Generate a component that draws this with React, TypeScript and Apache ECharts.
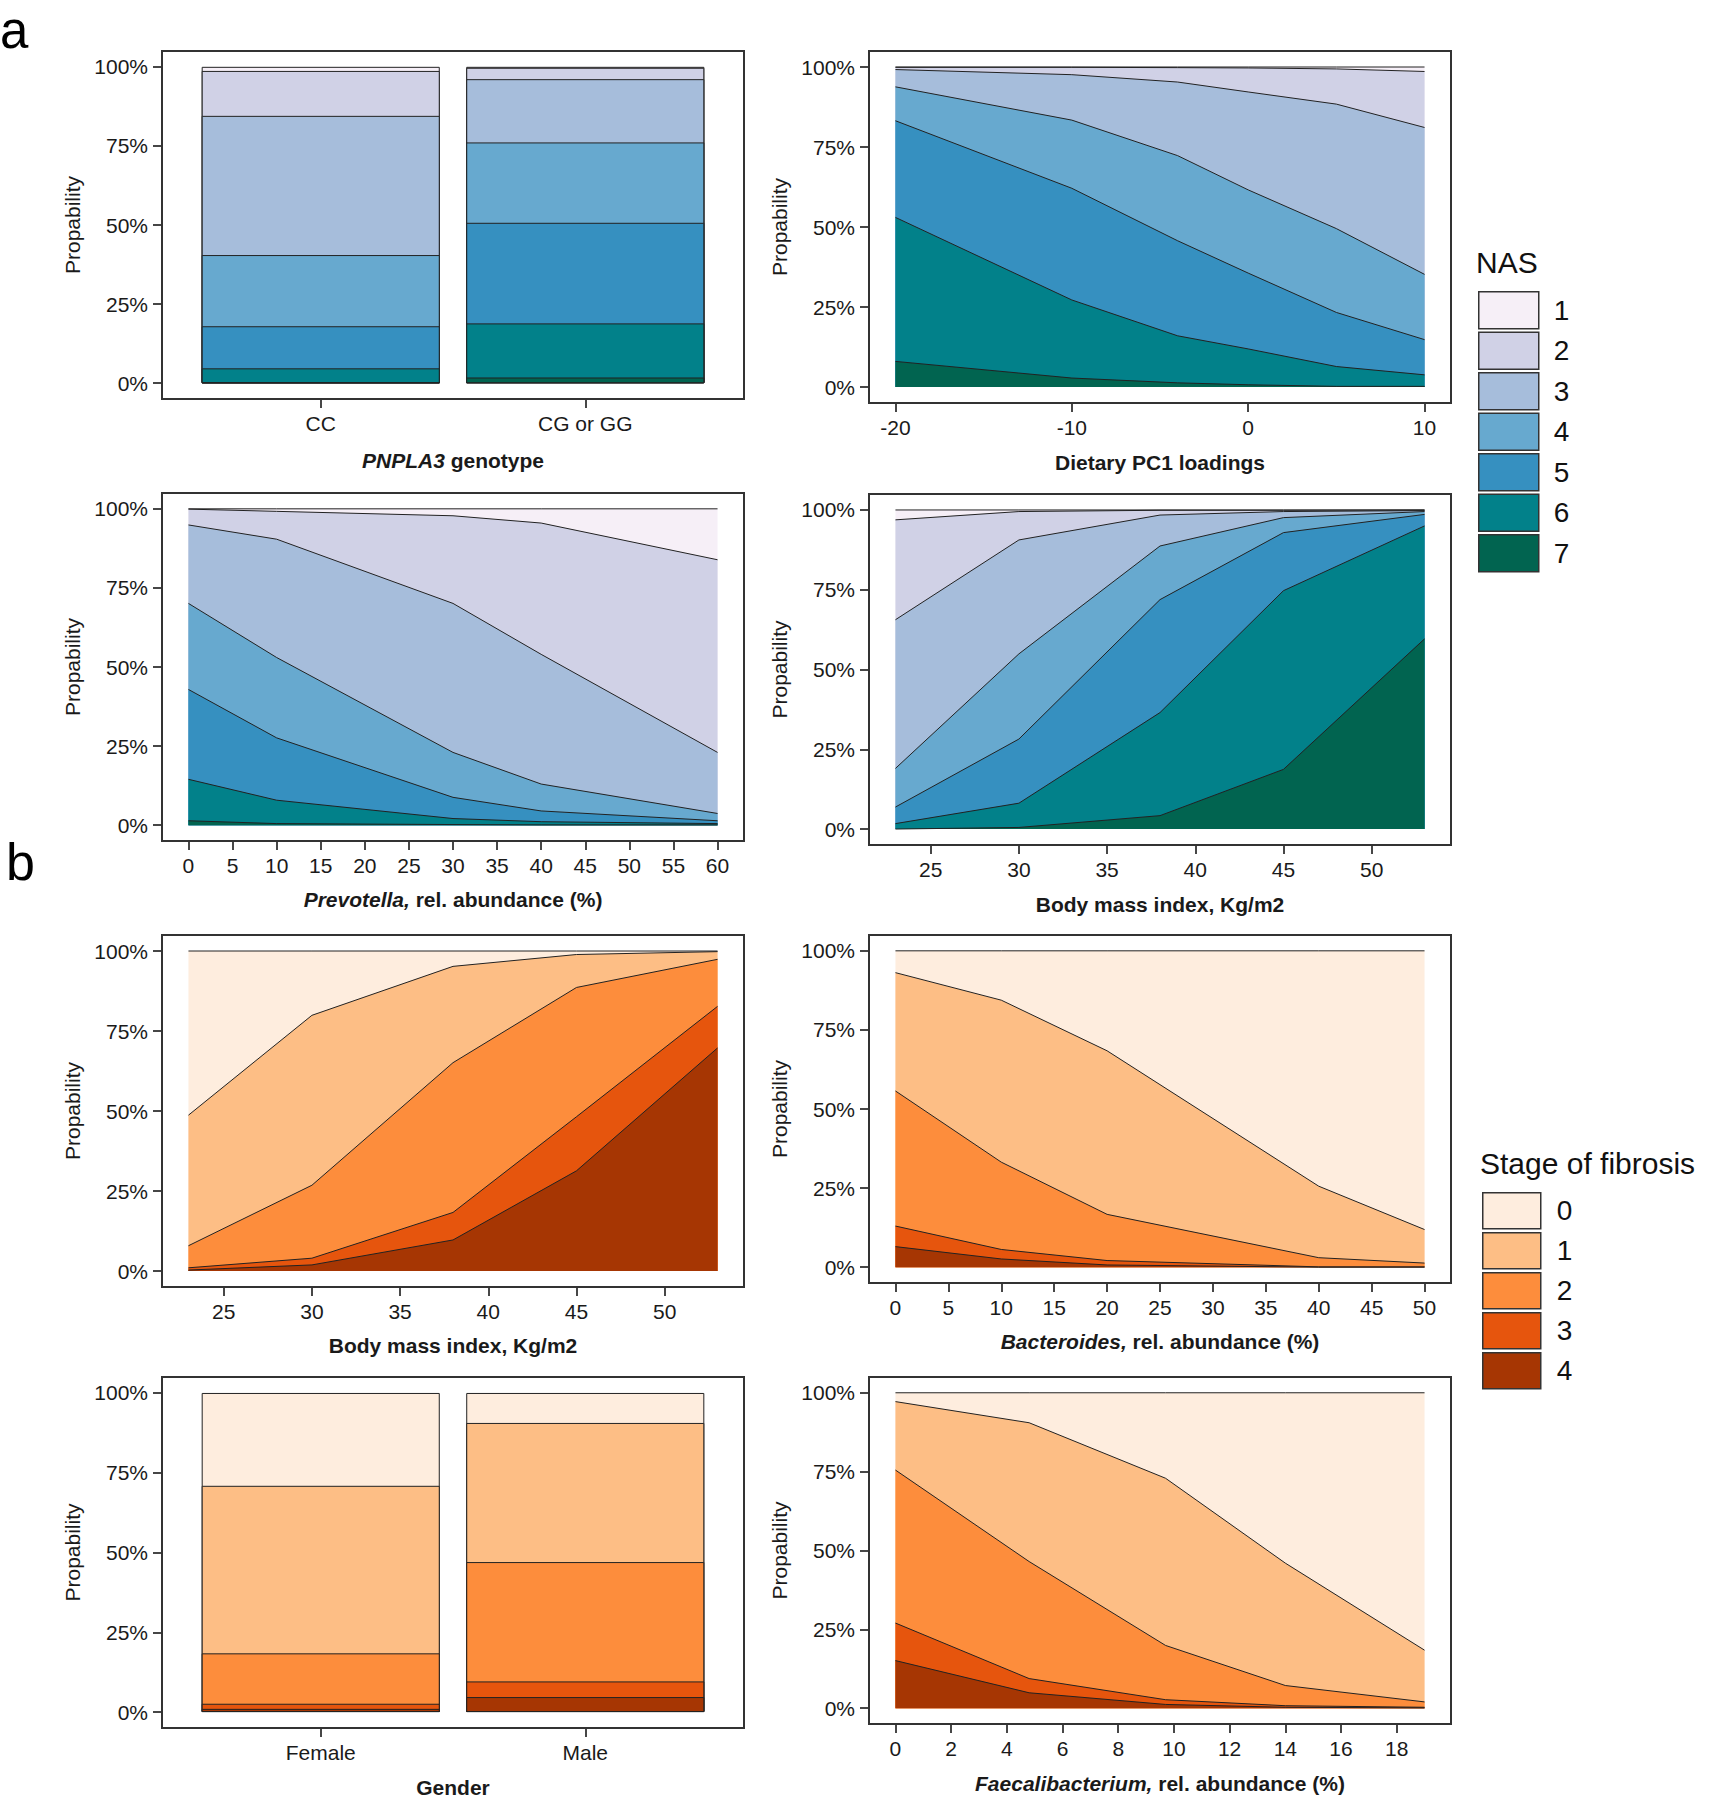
import React, { useEffect, useRef } from "react";
import * as echarts from "echarts";

// ---------- categories & colours ----------
const NAS_LEVELS = ["1", "2", "3", "4", "5", "6", "7"];
const NAS_COLORS = ["#F6EFF7", "#D0D1E6", "#A6BDDB", "#67A9CF", "#3690C0", "#02818A", "#016450"];
const FIB_LEVELS = ["0", "1", "2", "3", "4"];
const FIB_COLORS = ["#FEEDDE", "#FDBE85", "#FD8D3C", "#E6550D", "#A63603"];

// ---------- tick labels ----------
const probTicks = [0, 25, 50, 75, 100];
const pc1Ticks = [-20, -10, 0, 10];
const prevTicks = [0, 5, 10, 15, 20, 25, 30, 35, 40, 45, 50, 55, 60];
const bmiTicks = [25, 30, 35, 40, 45, 50];
const bactTicks = [0, 5, 10, 15, 20, 25, 30, 35, 40, 45, 50];
const faecTicks = [0, 2, 4, 6, 8, 10, 12, 14, 16, 18];

// ---------- panel a: NAS ----------
// PNPLA3 genotype; rows = NAS 1..7, columns = categories (probability %)
const genotypeCats = ["CC", "CG or GG"];
const genotypeProbs = [
  [1.3, 0.3],
  [14.2, 3.6],
  [44.0, 20.0],
  [22.5, 25.4],
  [13.3, 31.8],
  [4.5, 17.1],
  [0.2, 1.8],
];

// Dietary PC1 loadings
const pc1X = [-20, -10, -4, 0, 5, 10];
const pc1Probs = [
  [0.1, 0.1, 0.2, 0.3, 0.6, 1.4],
  [0.7, 2.3, 4.5, 7.5, 11.0, 17.5],
  [5.4, 14.2, 23.0, 30.6, 38.9, 45.9],
  [10.6, 21.3, 26.6, 26.0, 26.2, 20.4],
  [30.2, 34.9, 29.7, 23.7, 16.9, 11.0],
  [45.0, 24.4, 14.7, 11.2, 6.2, 3.6],
  [8.0, 2.8, 1.3, 0.7, 0.2, 0.2],
];

// Prevotella rel. abundance
const prevX = [0, 10, 30, 40, 60];
const prevProbs = [
  [0.1, 0.8, 2.2, 4.5, 16.1],
  [5.0, 8.8, 27.7, 41.5, 60.9],
  [24.8, 37.4, 47.1, 41.0, 19.3],
  [27.2, 25.4, 14.2, 8.5, 2.3],
  [28.4, 19.7, 6.7, 3.4, 0.9],
  [13.1, 7.4, 1.9, 1.0, 0.4],
  [1.4, 0.5, 0.2, 0.1, 0.1],
];

// BMI vs NAS
const bmiX = [23, 30, 38, 45, 53];
const bmiNasProbs = [
  [3.1, 0.5, 0.1, 0.1, 0.0],
  [31.3, 8.9, 1.5, 0.4, 0.2],
  [46.6, 35.7, 9.7, 1.9, 0.3],
  [12.1, 26.7, 16.8, 4.7, 0.9],
  [5.2, 20.1, 35.4, 18.2, 3.6],
  [1.7, 7.6, 32.3, 56.0, 35.4],
  [0.0, 0.5, 4.2, 18.7, 59.6],
];

// ---------- panel b: fibrosis ----------
// BMI vs fibrosis stage (rows = stage 0..4)
const bmiFibProbs = [
  [51.3, 20.1, 4.8, 1.1, 0.2],
  [40.8, 53.1, 30.1, 10.3, 2.4],
  [6.9, 22.8, 46.8, 40.4, 14.7],
  [0.7, 2.1, 8.6, 16.9, 13.0],
  [0.3, 1.9, 9.7, 31.3, 69.7],
];

// Bacteroides rel. abundance
const bactX = [0, 10, 20, 40, 50];
const bactProbs = [
  [6.9, 15.6, 31.6, 74.4, 88.1],
  [37.4, 51.2, 51.7, 22.6, 10.6],
  [42.7, 27.6, 14.6, 2.9, 1.2],
  [6.5, 3.0, 1.4, 0.1, 0.1],
  [6.5, 2.6, 0.7, 0.0, 0.0],
];

// Gender
const genderCats = ["Female", "Male"];
const genderProbs = [
  [29.1, 9.4],
  [52.5, 43.6],
  [15.8, 37.4],
  [1.6, 4.9],
  [1.0, 4.7],
];

// Faecalibacterium rel. abundance
const faecX = [0, 4.8, 9.7, 14, 19];
const faecProbs = [
  [2.8, 9.5, 27.1, 54.0, 81.6],
  [21.7, 44.0, 53.0, 38.8, 16.4],
  [48.5, 37.1, 17.2, 6.4, 1.7],
  [11.9, 4.5, 1.5, 0.5, 0.2],
  [15.1, 4.9, 1.2, 0.3, 0.1],
];

// ---------- styling ----------
const FONT = '"Liberation Sans", Arial, Helvetica, sans-serif';
const INK = "#1a1a1a";
const LINE = "#222222";

// cumulative probability of level i and all levels below it (stack top)
function cumAt(probs: number[][], i: number, k: number) {
  let s = 0;
  for (let j = i; j < probs.length; j++) s += probs[j][k];
  return Math.min(100, s);
}

function lineSeries(gi: number, xs: number[], probs: number[][], levels: string[], colors: string[], prefix: string) {
  return probs.map((_, i) => ({
    type: "line",
    name: prefix + levels[i],
    xAxisIndex: gi,
    yAxisIndex: gi,
    data: xs.map((xv, k) => [xv, cumAt(probs, i, k)]),
    symbol: "none",
    showSymbol: false,
    silent: true,
    color: colors[i],
    itemStyle: { color: colors[i] },
    lineStyle: { color: LINE, width: 1 },
    areaStyle: { color: colors[i], opacity: 1 },
  }));
}

function barSeries(gi: number, probs: number[][], levels: string[], colors: string[], prefix: string, barW: number) {
  return probs.map((_, i) => ({
    type: "bar",
    name: prefix + levels[i],
    xAxisIndex: gi,
    yAxisIndex: gi,
    data: probs[0].map((__, k) => [k + 1, cumAt(probs, i, k)]),
    barWidth: barW,
    barGap: "-100%",
    silent: true,
    itemStyle: { color: colors[i], borderColor: LINE, borderWidth: 1 },
  }));
}

const tickLine = { color: "#333", width: 1.8 };
const labelStyle = { fontSize: 21, color: INK, fontFamily: FONT };

function yAxisFor(gi: number) {
  return {
    type: "value",
    gridIndex: gi,
    min: -5,
    max: 105,
    splitLine: { show: false },
    axisLine: { show: false, onZero: false },
    axisTick: { show: true, length: 9, customValues: probTicks, lineStyle: tickLine },
    axisLabel: { ...labelStyle, customValues: probTicks, margin: 14, formatter: (v: number) => v + "%" },
    name: "Propability",
    nameLocation: "middle",
    nameGap: 79,
    nameTextStyle: { fontSize: 21, color: INK, fontFamily: FONT },
  };
}

function xAxisFor(gi: number, min: number, max: number, ticks: number[], name: string, nameGap: number, fmt?: (v: number) => string) {
  return {
    type: "value",
    gridIndex: gi,
    min,
    max,
    splitLine: { show: false },
    axisLine: { show: false, onZero: false },
    axisTick: { show: true, length: 9, customValues: ticks, lineStyle: tickLine },
    axisLabel: { ...labelStyle, customValues: ticks, margin: 14, formatter: fmt || ((v: number) => String(v)) },
    name,
    nameLocation: "middle",
    nameGap,
    nameTextStyle: {
      fontSize: 21,
      fontWeight: "bold",
      color: INK,
      fontFamily: FONT,
      rich: { i: { fontSize: 21, fontWeight: "bold", fontStyle: "italic", color: INK, fontFamily: FONT } },
    },
  };
}

const expand = (xs: number[]) => {
  const lo = Math.min(...xs);
  const hi = Math.max(...xs);
  const pad = (hi - lo) * 0.05;
  return [lo - pad, hi + pad];
};

function buildOption() {
  const grids = [
    { left: 162, top: 51, width: 582, height: 348 },
    { left: 869, top: 51, width: 582, height: 352 },
    { left: 162, top: 493, width: 582, height: 348 },
    { left: 869, top: 494, width: 582, height: 351 },
    { left: 162, top: 935, width: 582, height: 352 },
    { left: 869, top: 935, width: 582, height: 348 },
    { left: 162, top: 1377, width: 582, height: 351 },
    { left: 869, top: 1377, width: 582, height: 347 },
  ].map((g) => ({ ...g, show: true, borderColor: "#333", borderWidth: 2, backgroundColor: "#fff" }));

  const barW = (582 / 2.2) * 0.9;
  const [pc1Min, pc1Max] = expand(pc1X);
  const [prevMin, prevMax] = expand(prevX);
  const [bmiMin, bmiMax] = expand(bmiX);
  const [bactMin, bactMax] = expand(bactX);
  const [faecMin, faecMax] = expand(faecX);

  const xAxes = [
    xAxisFor(0, 0.4, 2.6, [1, 2], "{i|PNPLA3} genotype", 51, (v) => genotypeCats[Math.round(v) - 1]),
    xAxisFor(1, pc1Min, pc1Max, pc1Ticks, "Dietary PC1 loadings", 49),
    xAxisFor(2, prevMin, prevMax, prevTicks, "{i|Prevotella,} rel. abundance (%)", 48),
    xAxisFor(3, bmiMin, bmiMax, bmiTicks, "Body mass index, Kg/m2", 49),
    xAxisFor(4, bmiMin, bmiMax, bmiTicks, "Body mass index, Kg/m2", 48),
    xAxisFor(5, bactMin, bactMax, bactTicks, "{i|Bacteroides,} rel. abundance (%)", 48),
    xAxisFor(6, 0.4, 2.6, [1, 2], "Gender", 49, (v) => genderCats[Math.round(v) - 1]),
    xAxisFor(7, faecMin, faecMax, faecTicks, "{i|Faecalibacterium,} rel. abundance (%)", 49),
  ];
  const yAxes = grids.map((_, i) => yAxisFor(i));

  const series = [
    ...barSeries(0, genotypeProbs, NAS_LEVELS, NAS_COLORS, "NAS_", barW),
    ...lineSeries(1, pc1X, pc1Probs, NAS_LEVELS, NAS_COLORS, "NAS_"),
    ...lineSeries(2, prevX, prevProbs, NAS_LEVELS, NAS_COLORS, "NAS_"),
    ...lineSeries(3, bmiX, bmiNasProbs, NAS_LEVELS, NAS_COLORS, "NAS_"),
    ...lineSeries(4, bmiX, bmiFibProbs, FIB_LEVELS, FIB_COLORS, "FIB_"),
    ...lineSeries(5, bactX, bactProbs, FIB_LEVELS, FIB_COLORS, "FIB_"),
    ...barSeries(6, genderProbs, FIB_LEVELS, FIB_COLORS, "FIB_", barW),
    ...lineSeries(7, faecX, faecProbs, FIB_LEVELS, FIB_COLORS, "FIB_"),
  ];

  const legendBase = {
    orient: "vertical",
    icon: "rect",
    selectedMode: false,
    padding: 0,
    formatter: (name: string) => name.split("_")[1],
    itemStyle: { borderColor: "#333", borderWidth: 1.5 },
  };

  return {
    animation: false,
    backgroundColor: "#fff",
    grid: grids,
    xAxis: xAxes,
    yAxis: yAxes,
    series,
    legend: [
      {
        ...legendBase,
        left: 1478,
        top: 291,
        itemWidth: 60,
        itemHeight: 37,
        itemGap: 2,
        data: NAS_LEVELS.map((l, i) => ({ name: "NAS_" + l, itemStyle: { color: NAS_COLORS[i] } })),
        textStyle: { fontSize: 28, color: "#111", fontFamily: FONT, padding: [0, 0, 0, 10] },
      },
      {
        ...legendBase,
        left: 1482,
        top: 1192,
        itemWidth: 58,
        itemHeight: 36,
        itemGap: 2.5,
        data: FIB_LEVELS.map((l, i) => ({ name: "FIB_" + l, itemStyle: { color: FIB_COLORS[i] } })),
        textStyle: { fontSize: 28, color: "#111", fontFamily: FONT, padding: [0, 0, 0, 11] },
      },
    ],
    graphic: [
      { type: "text", x: 0, y: 30, style: { text: "a", font: `51px ${FONT}`, lineHeight: 40, fill: "#000", verticalAlign: "middle" } },
      { type: "text", x: 6, y: 862, style: { text: "b", font: `52px ${FONT}`, lineHeight: 40, fill: "#000", verticalAlign: "middle" } },
      { type: "text", x: 1476, y: 262, style: { text: "NAS", font: `30px ${FONT}`, fill: "#111", verticalAlign: "middle" } },
      { type: "text", x: 1480, y: 1163, style: { text: "Stage of fibrosis", font: `30px ${FONT}`, fill: "#111", verticalAlign: "middle" } },
    ],
  };
}

export default function App() {
  const ref = useRef<HTMLDivElement>(null);
  useEffect(() => {
    if (!ref.current) return;
    const chart = echarts.init(ref.current, null, { renderer: "svg", width: 1714, height: 1800 });
    chart.setOption(buildOption() as any);
    return () => chart.dispose();
  }, []);
  return (
    <div
      ref={ref}
      style={{ position: "absolute", left: 0, top: 0, width: 1714, height: 1800, background: "#fff" }}
    />
  );
}
